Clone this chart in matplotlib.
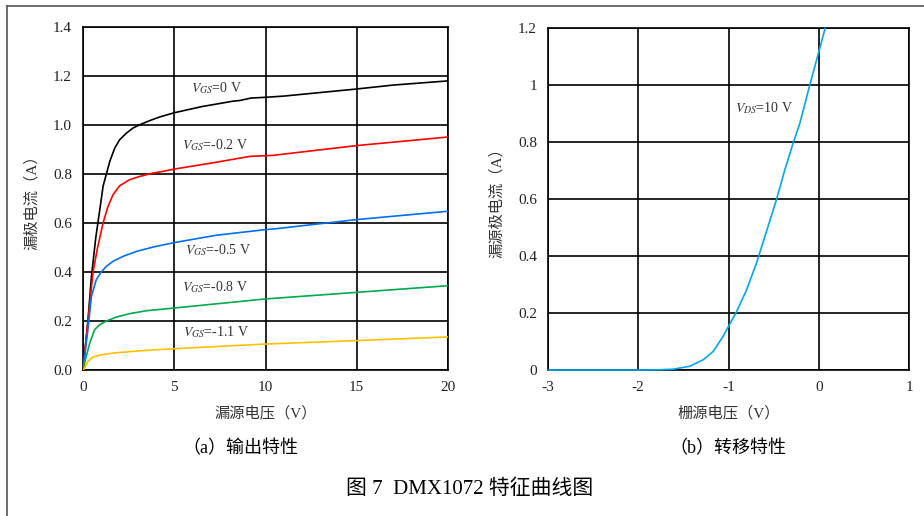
import matplotlib
matplotlib.use('Agg')
import matplotlib.pyplot as plt
from matplotlib.lines import Line2D

plt.rcParams['font.family'] = ['Liberation Serif', 'Noto Sans CJK SC']
plt.rcParams['mathtext.fontset'] = 'stix'
plt.rcParams['axes.unicode_minus'] = False
plt.rcParams['font.size'] = 11

# (a) output characteristics: drain current vs drain-source voltage
vds = {
    '0': [0, 0.27, 0.46, 0.7, 0.92, 1.1, 1.28, 1.47, 1.74, 2.01, 2.38, 2.75, 3.11,
          3.66, 4.21, 5.0, 6.5, 8.2, 8.6, 9.2, 10, 11, 15, 17, 20],
    '-0.2': [0, 0.3, 0.55, 0.8, 0.95, 1.1, 1.37, 1.65, 2.01, 2.56, 3.11, 3.85, 4.4,
             5.0, 7.3, 9.15, 10.4, 15, 20],
    '-0.5': [0, 0.27, 0.46, 0.73, 1.0, 1.28, 1.65, 2.2, 2.93, 3.85, 5.0, 7.3, 10,
             10.5, 15, 20],
    '-0.8': [0, 0.18, 0.37, 0.64, 0.92, 1.28, 1.83, 2.56, 3.48, 5.0, 10, 15, 20],
    '-1.1': [0, 0.09, 0.27, 0.55, 0.92, 1.65, 2.56, 3.48, 5.0, 10, 15, 20],
}
id_a = {
    '0': [0, 0.2, 0.38, 0.54, 0.654, 0.75, 0.80, 0.852, 0.906, 0.94, 0.967, 0.988,
          1.001, 1.018, 1.033, 1.05, 1.075, 1.097, 1.10, 1.11, 1.113, 1.118, 1.147,
          1.163, 1.18],
    '-0.2': [0, 0.22, 0.40, 0.50, 0.55, 0.60, 0.668, 0.716, 0.752, 0.777, 0.79,
             0.804, 0.811, 0.82, 0.848, 0.872, 0.876, 0.916, 0.951],
    '-0.5': [0, 0.165, 0.30, 0.369, 0.40, 0.423, 0.444, 0.464, 0.484, 0.502, 0.52,
             0.55, 0.573, 0.576, 0.614, 0.648],
    '-0.8': [0, 0.056, 0.11, 0.165, 0.185, 0.2, 0.216, 0.23, 0.242, 0.253, 0.29,
             0.317, 0.344],
    '-1.1': [0, 0.008, 0.035, 0.053, 0.061, 0.069, 0.075, 0.08, 0.087, 0.106, 0.12,
             0.135],
}
curve_colors = {'0': '#000000', '-0.2': '#FF0000', '-0.5': '#0070F0',
                '-0.8': '#00A850', '-1.1': '#FFC000'}
label_pos = {'0': (5.9, 1.15), '-0.2': (5.4, 0.92), '-0.5': (5.6, 0.49),
             '-0.8': (5.4, 0.34), '-1.1': (5.5, 0.155)}

# (b) transfer characteristic at VDS = 10 V
vgs = [-3, -2, -1.8, -1.61, -1.43, -1.28, -1.17, -1.06, -1.0, -0.91, -0.80, -0.69,
       -0.47, -0.378, -0.28, -0.21, -0.10, 0.0, 0.07]
id_b = [0, 0, 0.0005, 0.003, 0.013, 0.036, 0.065, 0.118, 0.153, 0.205, 0.281,
        0.375, 0.596, 0.70, 0.80, 0.865, 0.999, 1.116, 1.198]

W, H = 924, 516
fig = plt.figure(figsize=(W / 100, H / 100), dpi=100)

def px_axes(l, t, r, b):
    return fig.add_axes([l / W, 1 - b / H, (r - l) / W, (b - t) / H])

ax1 = px_axes(83, 27, 448, 370)
ax2 = px_axes(548, 28, 909, 370)

for ax in (ax1, ax2):
    ax.grid(True, color='black', lw=1.2)
    ax.tick_params(length=0, pad=8, labelsize=11, labelcolor='#222222')
    for s in ax.spines.values():
        s.set_linewidth(1.2)
    ax.set_axisbelow(True)

for k in vds:
    ax1.plot(vds[k], id_a[k], color=curve_colors[k], lw=1.2,
             solid_joinstyle='round', zorder=3)
    x, y = label_pos[k]
    ax1.text(x, y, r'$V_{GS}$=' + k + ' V', fontsize=10, va='center', ha='left',
             color='#333333')
ax1.set_xlim(0, 20)
ax1.set_ylim(0, 1.4)
ax1.set_xticks([0, 5, 10, 15, 20])
ax1.set_yticks([0, 0.2, 0.4, 0.6, 0.8, 1.0, 1.2, 1.4])
ax1.set_yticklabels(['0.0', '0.2', '0.4', '0.6', '0.8', '1.0', '1.2', '1.4'])
ax1.set_xlabel('漏源电压（V）', fontsize=11, labelpad=8, color='#333333')
ax1.set_ylabel('漏极电流（A）', fontsize=11, labelpad=10, color='#333333')

ax2.plot(vgs, id_b, color='#00A8E8', lw=1.2, solid_joinstyle='round',
         zorder=3, clip_on=False)
ax2.text(-0.93, 0.92, r'$V_{DS}$=10 V', fontsize=10, va='center', ha='left',
         color='#333333')
ax2.set_xlim(-3, 1)
ax2.set_ylim(0, 1.2)
ax2.set_xticks([-3, -2, -1, 0, 1])
ax2.set_yticks([0, 0.2, 0.4, 0.6, 0.8, 1, 1.2])
ax2.set_yticklabels(['0', '0.2', '0.4', '0.6', '0.8', '1', '1.2'])
ax2.set_xlabel('栅源电压（V）', fontsize=11, labelpad=8, color='#333333')
ax2.set_ylabel('漏源极电流（A）', fontsize=11, labelpad=10, color='#333333')

fig.text(240 / W, 1 - 449 / H, '（a）输出特性', ha='center', va='center', fontsize=13)
fig.text(728 / W, 1 - 449 / H, '（b）转移特性', ha='center', va='center', fontsize=13)
fig.text(470 / W, 1 - 489 / H, '图 7  DMX1072 特征曲线图', ha='center', va='center', fontsize=15)

# page frame (top and left edges)
fig.add_artist(Line2D([7 / W, 1], [1 - 6 / H, 1 - 6 / H], color='#555555', lw=1.2))
fig.add_artist(Line2D([7 / W, 7 / W], [0, 1 - 6 / H], color='#555555', lw=1.2))

fig.savefig('out.png', dpi=100)
